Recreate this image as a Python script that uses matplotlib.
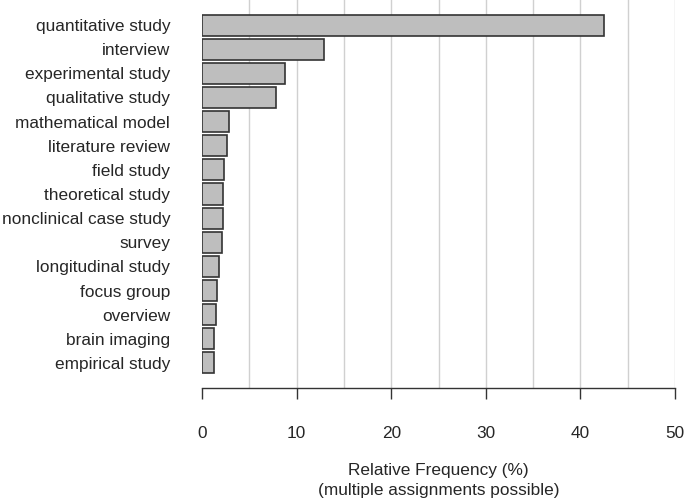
import matplotlib.pyplot as plt

plt.rcParams['font.family'] = ['Liberation Sans', 'DejaVu Sans']

categories = ["quantitative study", "interview", "experimental study", "qualitative study",
              "mathematical model", "literature review", "field study", "theoretical study",
              "nonclinical case study", "survey", "longitudinal study", "focus group",
              "overview", "brain imaging", "empirical study"]
values = [42.5, 12.9, 8.75, 7.8, 2.9, 2.6, 2.3, 2.2, 2.2, 2.1, 1.8, 1.6, 1.5, 1.3, 1.3]
xticks = [0, 10, 20, 30, 40, 50]

fig = plt.figure(figsize=(6.85, 5.01), dpi=100)
ax = fig.add_axes([202/685, 113/501, 473/685, 388/501])

pos = list(range(len(categories)))
ax.barh(pos, values, height=0.87, color='#bebebe', edgecolor='#333333', linewidth=1.2, zorder=3)

for g in range(5, 55, 5):
    ax.axvline(g, color='#d0d0d0', linewidth=1.0, zorder=1)

ax.set_xlim(0, 50)
ax.set_ylim(14 + 1.036, -1.036)
ax.set_yticks(pos)
ax.set_yticklabels(categories, fontsize=12.4, color='#262626')
ax.tick_params(axis='y', length=0, pad=23)
ax.set_xticks(xticks)
ax.tick_params(axis='x', length=8, width=1, color='#333333', pad=19.5, labelsize=12.4, labelcolor='#262626')
for s in ['top', 'right', 'left']:
    ax.spines[s].set_visible(False)
ax.spines['bottom'].set_color('#333333')
ax.spines['bottom'].set_linewidth(1)
ax.set_xlabel("Relative Frequency (%)\n(multiple assignments possible)", fontsize=12.4,
              color='#262626', labelpad=15.5, linespacing=1.4)

fig.savefig('out.png', dpi=100)
